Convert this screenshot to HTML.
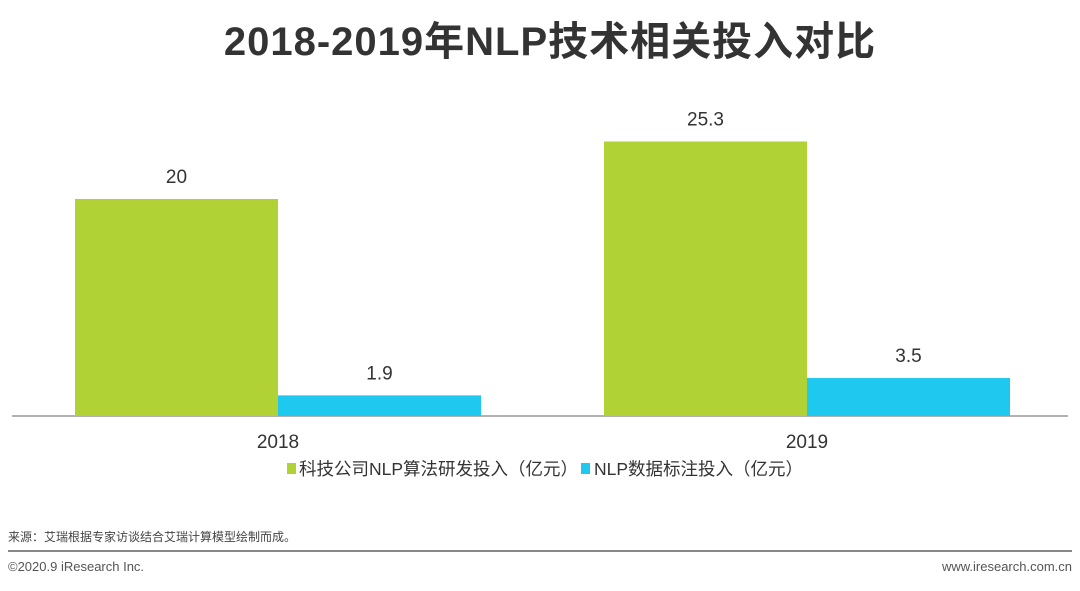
<!DOCTYPE html>
<html><head><meta charset="utf-8"><style>
body{margin:0;width:1080px;height:586px;background:#fff;overflow:hidden;font-family:"Liberation Sans","Noto Sans CJK SC",sans-serif;}
svg text{font-family:"Liberation Sans","Noto Sans CJK SC",sans-serif;}
</style></head><body>
<svg id="chart" width="1080" height="586">
<text x="550" y="55" text-anchor="middle" font-size="40" font-weight="bold" letter-spacing="1" fill="#333">2018-2019年NLP技术相关投入对比</text>
<line x1="12" y1="416" x2="1068" y2="416" stroke="#999" stroke-width="1.5"/>
<g id="bars"></g>
<g>
<rect x="287" y="463" width="9" height="11" fill="#b0d235"/>
<text x="299" y="475" font-size="17.5" fill="#333">科技公司NLP算法研发投入（亿元）</text>
<rect x="581" y="463" width="9" height="11" fill="#1ec8ee"/>
<text x="594" y="475" font-size="17.5" fill="#333">NLP数据标注投入（亿元）</text>
</g>
<text x="8" y="541" font-size="12" fill="#444">来源：艾瑞根据专家访谈结合艾瑞计算模型绘制而成。</text>
<line x1="8" y1="551" x2="1072" y2="551" stroke="#888" stroke-width="2"/>
<text x="8" y="571" font-size="13" fill="#555">©2020.9 iResearch Inc.</text>
<text x="1072" y="571" font-size="13" fill="#555" text-anchor="end">www.iresearch.com.cn</text>
</svg>
<script>
const categories=["2018","2019"];
const rdValues=[20,25.3];
const labelValues=[1.9,3.5];
const rdLabels=["20","25.3"];
const labelLabels=["1.9","3.5"];
const NS="http://www.w3.org/2000/svg";
const g=document.getElementById('bars');
const baseY=416, pxPerUnit=10.85;
function yScale(v){return baseY-v*pxPerUnit;}
const groupX=[75,604], barW=203;
function mk(tag,attrs){const e=document.createElementNS(NS,tag);for(const k in attrs)e.setAttribute(k,attrs[k]);return e;}
categories.forEach((c,i)=>{
  const x0=groupX[i];
  [[rdValues,rdLabels,"#b0d235","rd"],[labelValues,labelLabels,"#1ec8ee","label"]].forEach(([vals,lbls,col,key],j)=>{
    const x=x0+j*barW, y=yScale(vals[i]);
    const r=mk('rect',{x:x,y:y,width:barW,height:baseY-y,fill:col});
    
    
    g.appendChild(r);
    const t=mk('text',{x:x+barW/2,y:y-16,'text-anchor':'middle','font-size':19,fill:'#333'});
    t.textContent=lbls[i];
    
    
    g.appendChild(t);
  });
  const ct=mk('text',{x:x0+barW,y:448,'text-anchor':'middle','font-size':19,fill:'#333'});
  ct.textContent=c;
  
  
  g.appendChild(ct);
});
</script>
</body></html>
